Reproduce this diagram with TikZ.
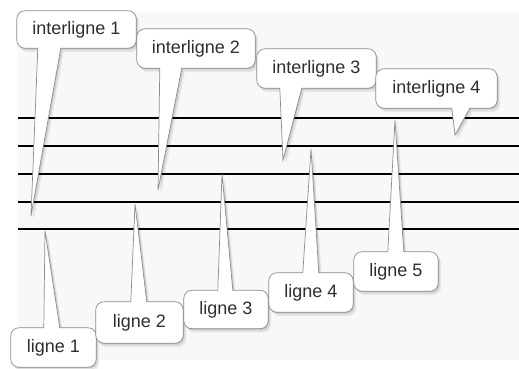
\documentclass[tikz,border=0pt]{standalone}
\usepackage{fontspec}
\setmainfont{Liberation Sans}
\usetikzlibrary{shadows}
\definecolor{bgray}{HTML}{F8F8F8}
\definecolor{edgegray}{HTML}{8C8C8C}
\definecolor{txtgray}{HTML}{2E2E2E}
\pgfdeclarelayer{back}
\pgfdeclarelayer{mid}
\pgfsetlayers{back,mid,main}
\tikzset{
  lab/.style={inner sep=0pt, text=txtgray, font=\fontsize{18}{20}\selectfont},
  softshadow/.style={
    general shadow={fill=black,opacity=.08,shadow xshift=1pt,shadow yshift=-1pt},
    general shadow={fill=black,opacity=.07,shadow xshift=2pt,shadow yshift=-2.5pt},
    general shadow={fill=black,opacity=.06,shadow xshift=3pt,shadow yshift=-4pt}},
  bubble/.style={fill=white, draw=edgegray, line width=0.7pt, softshadow},
  staffline/.style={line width=2.8pt, black}
}
% tail on the bottom edge: #1 node, #2 #3 tail base offsets, #4 tip
\newcommand\tailbelow[4]{%
  \begin{pgfonlayer}{mid}
  \path[bubble] ([xshift=#2pt]#1.south west) -- (#4) -- ([xshift=#3pt]#1.south west)
    -- ([xshift=-8pt]#1.south east) arc[start angle=-90,end angle=0,radius=8pt]
    -- ([yshift=-8pt]#1.north east) arc[start angle=0,end angle=90,radius=8pt]
    -- ([xshift=8pt]#1.north west) arc[start angle=90,end angle=180,radius=8pt]
    -- ([yshift=8pt]#1.south west) arc[start angle=180,end angle=270,radius=8pt]
    -- cycle;
  \end{pgfonlayer}}
% tail on the top edge
\newcommand\tailabove[4]{%
  \begin{pgfonlayer}{mid}
  \path[bubble] ([xshift=#3pt]#1.north west) -- (#4) -- ([xshift=#2pt]#1.north west)
    -- ([xshift=8pt]#1.north west) arc[start angle=90,end angle=180,radius=8pt]
    -- ([yshift=8pt]#1.south west) arc[start angle=180,end angle=270,radius=8pt]
    -- ([xshift=-8pt]#1.south east) arc[start angle=-90,end angle=0,radius=8pt]
    -- ([yshift=-8pt]#1.north east) arc[start angle=0,end angle=90,radius=8pt]
    -- cycle;
  \end{pgfonlayer}}
\begin{document}
\begin{tikzpicture}[x=1pt,y=-1pt]
\useasboundingbox (0,0) rectangle (519,368);
\begin{pgfonlayer}{back}
\fill[white] (0,0) rectangle (519,368);
\fill[bgray] (18,12) rectangle (519,360);
\foreach \yy in {118,146,174,202,229} \draw[staffline] (18,\yy) -- (519,\yy);
\end{pgfonlayer}
% tips
\coordinate (t1) at (31,216);
\coordinate (t2) at (158,190);
\coordinate (t3) at (283,160);
\coordinate (t4) at (455,135);
\coordinate (s1) at (45,231);
\coordinate (s2) at (135,204);
\coordinate (s3) at (222,174);
\coordinate (s4) at (311,149);
\coordinate (s5) at (395,120);
% callouts
\node[lab, minimum width=119pt, minimum height=37pt] (i1) at (76.5,29.5) {interligne 1};
\tailbelow{i1}{21}{44}{t1}
\node[lab, minimum width=118pt, minimum height=39pt] (i2) at (196,48.5) {interligne 2};
\tailbelow{i2}{23}{45}{t2}
\node[lab, minimum width=119pt, minimum height=39pt] (i3) at (316.5,68.5) {interligne 3};
\tailbelow{i3}{23}{45}{t3}
\node[lab, minimum width=121pt, minimum height=39pt] (i4) at (436.5,88.5) {interligne 4};
\tailbelow{i4}{76}{94}{t4}
\node[lab, minimum width=85pt, minimum height=39pt] (l1) at (53.5,347.5) {ligne 1};
\tailabove{l1}{33}{49}{s1}
\node[lab, minimum width=87pt, minimum height=41pt] (l2) at (139.5,322.5) {ligne 2};
\tailabove{l2}{35}{51}{s2}
\node[lab, minimum width=84pt, minimum height=38pt] (l3) at (226,309.5) {ligne 3};
\tailabove{l3}{34}{49}{s3}
\node[lab, minimum width=84pt, minimum height=39pt] (l4) at (311,292.5) {ligne 4};
\tailabove{l4}{34}{50}{s4}
\node[lab, minimum width=84pt, minimum height=39pt] (l5) at (396,271.5) {ligne 5};
\tailabove{l5}{34}{50}{s5}
\end{tikzpicture}
\end{document}
